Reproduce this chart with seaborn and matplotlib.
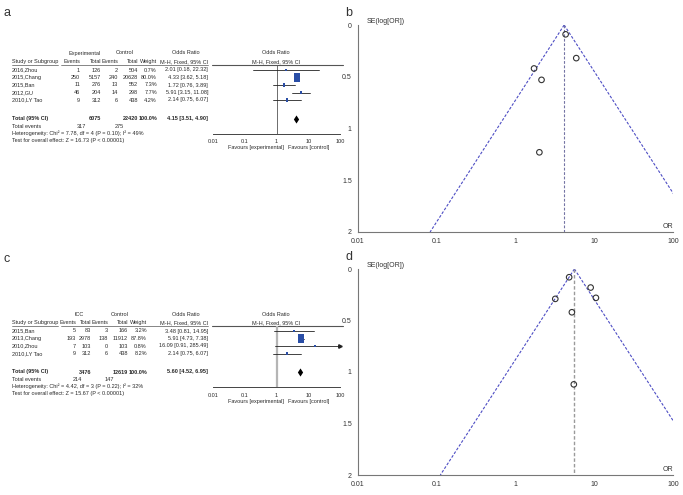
import numpy as np
import matplotlib
matplotlib.use("Agg")
import matplotlib.pyplot as plt
import seaborn as sns

sns.set_style("white")
plt.rcParams["font.family"] = ["Liberation Sans", "DejaVu Sans"]

# ---- data: panel a (forest) / b (funnel)
studies_a = ["2016,Zhou", "2015,Chang", "2015,Ban", "2012,GU", "2010,LY Tao"]
exp_events_a = [1, 250, 11, 46, 9]
exp_total_a = [126, 5157, 276, 204, 312]
ctl_events_a = [2, 240, 13, 14, 6]
ctl_total_a = [504, 20628, 552, 298, 438]
weight_a = [0.7, 80.0, 7.3, 7.7, 4.2]
or_a = [2.01, 4.33, 1.72, 5.91, 2.14]
lo_a = [0.18, 3.62, 0.76, 3.15, 0.75]
hi_a = [22.32, 5.18, 3.89, 11.08, 6.07]
pooled_a = [4.15, 3.51, 4.90]
totals_a = [6075, 22420, 317, 275]
het_a = "Heterogeneity: Chi\u00b2 = 7.78, df = 4 (P = 0.10); I\u00b2 = 49%"
test_a = "Test for overall effect: Z = 16.73 (P < 0.00001)"

or_b = [2.01, 4.33, 1.72, 5.91, 2.14]
se_b = [1.23, 0.09, 0.42, 0.32, 0.53]

# ---- data: panel c (forest) / d (funnel)
studies_c = ["2015,Ban", "2013,Chang", "2010,Zhou", "2010,LY Tao"]
exp_events_c = [5, 193, 7, 9]
exp_total_c = [83, 2978, 103, 312]
ctl_events_c = [3, 138, 0, 6]
ctl_total_c = [166, 11912, 103, 438]
weight_c = [3.2, 87.8, 0.8, 8.2]
or_c = [3.48, 5.91, 16.09, 2.14]
lo_c = [0.81, 4.73, 0.91, 0.75]
hi_c = [14.95, 7.38, 285.49, 6.07]
pooled_c = [5.60, 4.52, 6.95]
totals_c = [3476, 12619, 214, 147]
het_c = "Heterogeneity: Chi\u00b2 = 4.42, df = 3 (P = 0.22); I\u00b2 = 32%"
test_c = "Test for overall effect: Z = 15.67 (P < 0.00001)"

or_d = [4.8, 3.2, 9.0, 10.5, 5.2, 5.5]
se_d = [0.08, 0.29, 0.18, 0.28, 0.42, 1.12]

or_ticks = [0.01, 0.1, 1, 10, 100]
or_ticklabels = ["0.01", "0.1", "1", "10", "100"]
se_ticks = [0, 0.5, 1, 1.5, 2]
se_ticklabels = ["0", "0.5", "1", "1.5", "2"]

W, H = 683, 495
fig = plt.figure(figsize=(W / 100, H / 100), dpi=100)


def px_axes(x0, y0, x1, y1):
    return fig.add_axes([x0 / W, 1 - y1 / H, (x1 - x0) / W, (y1 - y0) / H])


ov = px_axes(0, 0, W, H)
ov.set_xlim(0, W)
ov.set_ylim(H, 0)
ov.axis("off")

txt = "#2a2a2a"
fs = 4.0
blue = "#2a4ea6"
rect = [(-0.7, -1), (0.7, -1), (0.7, 1), (-0.7, 1)]
diamond = [(0, 1), (0.65, 0), (0, -1), (-0.65, 0)]


def t(x, y, s, ha="left", **kw):
    ov.text(x, y, s, ha=ha, va="center", fontsize=fs, color=txt, **kw)


def forest(top, grp, grp_x, ctl_x, studies, ev1, tot1, ev2, tot2, wt, orr, lo, hi, pooled,
           totals, het, test, cols, vline_style):
    c_ev1, c_tot1, c_ev2, c_tot2, c_w, c_ci = cols
    h1, h2, line_y = top, top + 8.5, top + 11.5
    row0 = top + 17
    rows = [row0 + 7.5 * i for i in range(len(studies))]
    tot_y = rows[-1] + 18.5
    axis_y = tot_y + 15

    # header
    t(grp_x, h1, grp, ha="center")
    t(ctl_x, h1, "Control", ha="center")
    t(c_ci - 22, h1, "Odds Ratio", ha="center")
    t(276, h1, "Odds Ratio", ha="center")
    t(276, h2, "M-H, Fixed, 95% CI", ha="center")
    t(12, h2, "Study or Subgroup")
    for x, s in zip(cols, ["Events", "Total", "Events", "Total", "Weight", "M-H, Fixed, 95% CI"]):
        t(x, h2, s, ha="right")
    ov.plot([12, 58], [line_y, line_y], color="#555555", lw=0.5)
    ov.plot([61, c_ci], [line_y, line_y], color="#555555", lw=0.5)
    ov.plot([212, 343], [line_y, line_y], color="#555555", lw=0.8)

    # study rows
    for i, y in enumerate(rows):
        t(12, y, studies[i])
        t(c_ev1, y, str(ev1[i]), ha="right")
        t(c_tot1, y, str(tot1[i]), ha="right")
        t(c_ev2, y, str(ev2[i]), ha="right")
        t(c_tot2, y, str(tot2[i]), ha="right")
        t(c_w, y, f"{wt[i]:.1f}%", ha="right")
        t(c_ci, y, f"{orr[i]:.2f} [{lo[i]:.2f}, {hi[i]:.2f}]", ha="right")

    # totals
    t(12, tot_y, "Total (95% CI)", fontweight="bold")
    t(c_tot1, tot_y, str(totals[0]), ha="right", fontweight="bold")
    t(c_tot2, tot_y, str(totals[1]), ha="right", fontweight="bold")
    t(c_w, tot_y, "100.0%", ha="right", fontweight="bold")
    t(c_ci, tot_y, f"{pooled[0]:.2f} [{pooled[1]:.2f}, {pooled[2]:.2f}]", ha="right",
      fontweight="bold")
    t(12, tot_y + 7.5, "Total events")
    t(c_ev1 + 6, tot_y + 7.5, str(totals[2]), ha="right")
    t(c_ev2 + 6, tot_y + 7.5, str(totals[3]), ha="right")
    t(12, tot_y + 14.5, het)
    t(12, tot_y + 22, test)

    # plot region
    fa = px_axes(213, line_y, 340, axis_y)
    fa.set_xscale("log")
    fa.set_xlim(0.01, 100)
    fa.set_ylim(axis_y, line_y)
    fa.patch.set_alpha(0)
    for sp in ["top", "left", "right"]:
        fa.spines[sp].set_visible(False)
    fa.spines["bottom"].set_color("#444444")
    fa.spines["bottom"].set_linewidth(0.7)
    fa.set_xticks(or_ticks)
    fa.set_xticklabels(or_ticklabels, fontsize=fs, color=txt)
    fa.xaxis.set_minor_locator(matplotlib.ticker.NullLocator())
    fa.tick_params(axis="x", direction="inout", length=4, width=0.6, color="#444444", pad=2)
    fa.set_yticks([])
    fa.axvline(1, **vline_style)

    for i, y in enumerate(rows):
        right = min(hi[i], 100)
        fa.plot([lo[i], right], [y, y], color="#222222", lw=0.6)
        if hi[i] > 100:
            fa.plot(100, y, marker=">", ms=2.5, color="#222222", clip_on=False)
    sns.scatterplot(x=orr, y=rows, ax=fa, marker=rect, color=blue, edgecolor=blue,
                    s=[3 + 0.45 * w for w in wt], linewidth=0, legend=False, zorder=3)
    sns.scatterplot(x=[pooled[0]], y=[tot_y], ax=fa, marker=diamond, color="black",
                    s=34, linewidth=0, legend=False, zorder=3, clip_on=False)
    fa.set_xlabel("")
    fa.set_ylabel("")
    t(284, axis_y + 14, "Favours [experimental]", ha="right")
    t(288, axis_y + 14, "Favours [control]")


def funnel(y0, y1, orr, se, pooled, vline_color, vline_lw):
    fb = px_axes(358, y0, 673, y1)
    fb.set_xscale("log")
    fb.set_xlim(0.01, 100)
    fb.set_ylim(2, 0)
    for sp in ["top", "right"]:
        fb.spines[sp].set_visible(False)
    for sp in ["left", "bottom"]:
        fb.spines[sp].set_color("#777777")
        fb.spines[sp].set_linewidth(0.8)
    fb.set_xticks(or_ticks)
    fb.set_xticklabels(or_ticklabels, fontsize=5, color="#333333")
    fb.xaxis.set_minor_locator(matplotlib.ticker.NullLocator())
    fb.set_yticks(se_ticks)
    fb.set_yticklabels(se_ticklabels, fontsize=5, color="#333333")
    fb.tick_params(direction="out", length=3, width=0.6, color="#777777", pad=1.5)
    fb.patch.set_alpha(0)

    z = 1.96
    dash = dict(color="#4d4dc4", lw=0.8, linestyle=(0, (2.5, 1.5)))
    fb.plot([pooled, pooled * np.exp(-z * 2)], [0, 2], **dash)
    fb.plot([pooled, pooled * np.exp(z * 2)], [0, 2], **dash)
    fb.plot([pooled, pooled], [0, 2], color=vline_color, lw=vline_lw, linestyle=(0, (2.5, 1.5)))
    sns.scatterplot(x=orr, y=se, ax=fb, marker="o", s=16, facecolor="none",
                    edgecolor="#333333", linewidth=0.8, legend=False, zorder=3)
    fb.set_xlabel("")
    fb.set_ylabel("")
    fb.text(0.028, 1.015, "SE(log[OR])", transform=fb.transAxes, ha="left", va="center",
            fontsize=5, color="#333333")
    fb.text(0.985, 0.01, "OR", transform=fb.transAxes, ha="center", va="bottom",
            fontsize=5, color="#333333")


forest(53, "Experimental", 85, 125, studies_a, exp_events_a, exp_total_a, ctl_events_a,
       ctl_total_a, weight_a, or_a, lo_a, hi_a, pooled_a, totals_a, het_a, test_a,
       [80, 101, 118, 138, 157, 208], dict(color="#555555", lw=0.6))
forest(314, "ICC", 79, 120, studies_c, exp_events_c, exp_total_c, ctl_events_c,
       ctl_total_c, weight_c, or_c, lo_c, hi_c, pooled_c, totals_c, het_c, test_c,
       [76, 91, 108, 128, 147, 208], dict(color="#b5b5b5", lw=1.6))

funnel(25, 232, or_b, se_b, pooled_a[0], "#7474a4", 0.8)
funnel(269, 475, or_d, se_d, pooled_c[0], "#9a9a9a", 1.0)

for x, y, s in [(3, 13, "a"), (345, 13, "b"), (3, 259, "c"), (345, 257, "d")]:
    ov.text(x, y, s, ha="left", va="center", fontsize=9, color="#333333")

fig.savefig("out.png", dpi=100)
